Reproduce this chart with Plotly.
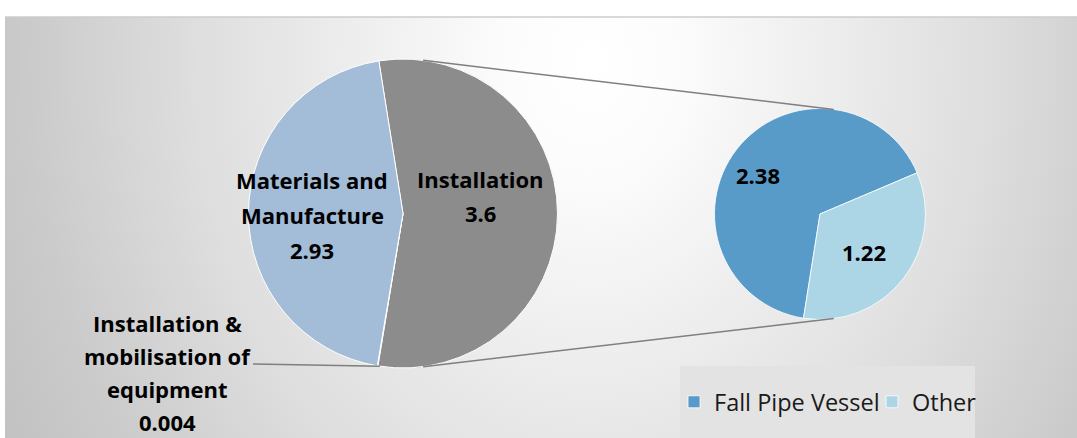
import base64
import math
import plotly.graph_objects as go

# ---------------- data ----------------
main_labels = ["Installation", "Installation & mobilisation of equipment", "Materials and Manufacture"]
main_values = [3.6, 0.004, 2.93]
main_display = ["Installation", "Installation &<br>mobilisation of<br>equipment", "Materials and<br>Manufacture"]

sub_labels = ["Fall Pipe Vessel", "Other"]
sub_values = [2.38, 1.22]

# ---------------- layout constants (pixels) ----------------
W, H = 1077, 438
MAIN_C, MAIN_R = (403, 213.5), 154.5
SUB_C, SUB_R = (820, 214), 105.5

main_colors = ["#8c8c8c", "#7a7a7a", "#a3bcd8"]
sub_colors = ["#599bc8", "#acd6e6"]


def px(x):
    return x / W


def py(y):
    return 1 - y / H


def domain(c, r):
    return dict(x=[px(c[0] - r), px(c[0] + r)], y=[py(c[1] + r), py(c[1] - r)])


def on_circle(c, r, ang):
    a = math.radians(ang)
    return c[0] + r * math.sin(a), c[1] - r * math.cos(a)


fig = go.Figure()
fig.add_trace(go.Pie(
    labels=main_labels, values=main_values, sort=False, direction="clockwise",
    rotation=-9, textinfo="none", hoverinfo="label+value", showlegend=False,
    marker=dict(colors=main_colors, line=dict(color="#ffffff", width=1)),
    domain=domain(MAIN_C, MAIN_R),
))
fig.add_trace(go.Pie(
    labels=sub_labels, values=sub_values, sort=False, direction="clockwise",
    rotation=189, textinfo="none", hoverinfo="label+value", showlegend=True,
    marker=dict(colors=sub_colors, line=dict(color="#ffffff", width=0.8)),
    domain=domain(SUB_C, SUB_R),
))

# ---------------- background gradient ----------------
PX0, PY0 = 5, 17
pw, ph = W - PX0, H - PY0
svg = f'''<svg xmlns="http://www.w3.org/2000/svg" width="{pw}" height="{ph}" viewBox="0 0 {pw} {ph}">
<defs><radialGradient id="g" gradientUnits="userSpaceOnUse" cx="585" cy="45" r="720"
 gradientTransform="translate(585 45) scale(1 1.25) translate(-585 -45)">
<stop offset="0" stop-color="#ffffff"/><stop offset="0.12" stop-color="#fcfcfc"/>
<stop offset="0.55" stop-color="#dedede"/><stop offset="0.8" stop-color="#c9c9c9"/>
<stop offset="1" stop-color="#bdbdbd"/></radialGradient></defs>
<rect x="0" y="0" width="{pw}" height="{ph}" fill="url(#g)"/></svg>'''
src = "data:image/svg+xml;base64," + base64.b64encode(svg.encode()).decode()

images = [dict(source=src, xref="paper", yref="paper", x=px(PX0), y=py(PY0),
               sizex=pw / W, sizey=ph / H, xanchor="left", yanchor="top",
               sizing="stretch", layer="below")]

shapes = []
# top border of panel
shapes.append(dict(type="line", xref="paper", yref="paper", x0=px(PX0), x1=1, y0=py(PY0), y1=py(PY0),
                   line=dict(color="#cdcdcd", width=1.5)))
# legend box
shapes.append(dict(type="rect", xref="paper", yref="paper", x0=px(680), x1=px(975), y0=py(440), y1=py(366),
                   fillcolor="#e3e3e3", line=dict(width=0), layer="below"))
# connector lines main -> secondary
for a_main, a_sub in [(7.5, 7.5), (172.5, 172.5)]:
    x0, y0 = on_circle(MAIN_C, MAIN_R, a_main)
    x1, y1 = on_circle(SUB_C, SUB_R, a_sub)
    shapes.append(dict(type="line", xref="paper", yref="paper", x0=px(x0), y0=py(y0), x1=px(x1), y1=py(y1),
                       line=dict(color="#7f7f7f", width=1.5)))
# leader line for tiny slice
lx, ly = on_circle(MAIN_C, MAIN_R, 188.6)
shapes.append(dict(type="line", xref="paper", yref="paper", x0=px(253), y0=py(364), x1=px(lx), y1=py(ly),
                   line=dict(color="#7f7f7f", width=1.5)))

# ---------------- data labels ----------------
LABEL_FONT = dict(family="Open Sans", size=22, color="#000000")


def fmt(v):
    return f"{v:g}"


annotations = []
label_pos = {0: (480, 179, 34), 1: (167, 323, 33), 2: (312, 180, 35)}
for i, (disp, val) in enumerate(zip(main_display, main_values)):
    cx, cy, sp = label_pos[i]
    lines = disp.split("<br>") + [fmt(val)]
    for k, line in enumerate(lines):
        annotations.append(dict(text=f"<b>{line}</b>", xref="paper", yref="paper", x=px(cx), y=py(cy + k * sp),
                                showarrow=False, xanchor="center", yanchor="middle", font=LABEL_FONT))
sub_pos = [(758, 175), (864, 252)]
for (cx, cy), val in zip(sub_pos, sub_values):
    annotations.append(dict(text=f"<b>{fmt(val)}</b>", xref="paper", yref="paper", x=px(cx), y=py(cy),
                            showarrow=False, xanchor="center", yanchor="middle", font=LABEL_FONT))

fig.update_layout(
    width=W, height=H, autosize=False,
    margin=dict(l=0, r=0, t=0, b=0),
    paper_bgcolor="#ffffff", plot_bgcolor="rgba(0,0,0,0)",
    images=images, shapes=shapes, annotations=annotations,
    legend=dict(orientation="h", x=px(674), y=py(402), xanchor="left", yanchor="middle",
                bgcolor="rgba(0,0,0,0)", font=dict(family="Open Sans", size=23.5, color="#1a1a1a"),
                entrywidth=153, entrywidthmode="pixels",
                itemclick=False, itemdoubleclick=False, traceorder="normal"),
)

fig.write_html("out.html")
